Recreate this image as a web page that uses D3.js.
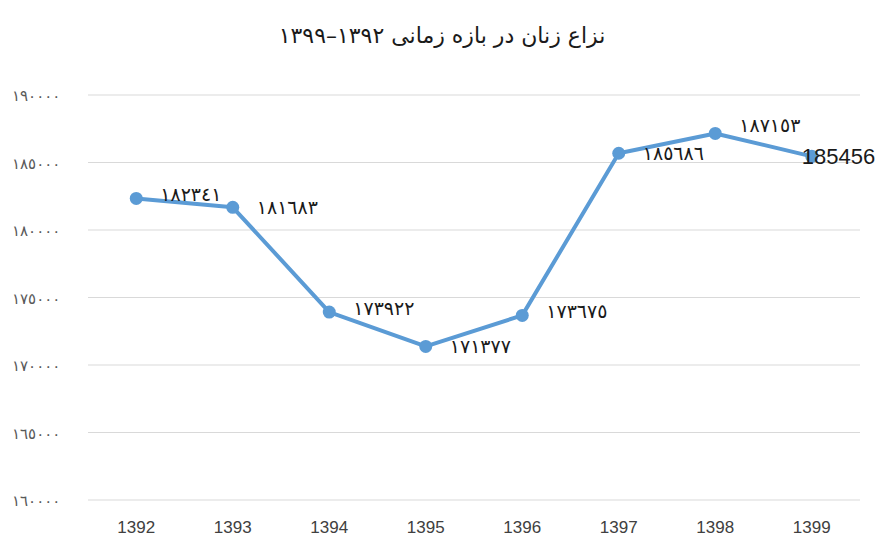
<!DOCTYPE html>
<html>
<head>
<meta charset="utf-8">
<script src="https://cdn.jsdelivr.net/npm/d3@7"></script>
<style>
  body { margin: 0; background: #fff; }
  svg { display: block; }
</style>
</head>
<body>
<svg id="chart" width="880" height="542"></svg>
<script>
// data
const years = ["1392", "1393", "1394", "1395", "1396", "1397", "1398", "1399"];
const values = [182341, 181683, 173922, 171377, 173675, 185686, 187153, 185456];
const yTicks = [160000, 165000, 170000, 175000, 180000, 185000, 190000];
const title = "نزاع زنان در بازه زمانی ۱۳۹۲–۱۳۹۹";

const arabicDigits = "٠١٢٣٤٥٦٧٨٩";
const toArabic = n => String(n).replace(/[0-9]/g, d => arabicDigits[+d]);

const svg = d3.select("#chart");
const plotLeft = 88, plotRight = 860, plotTop = 95, plotBottom = 500;

const x = d3.scaleBand().domain(years).range([plotLeft, plotRight]);
const y = d3.scaleLinear().domain([160000, 190000]).range([plotBottom, plotTop]);

// gridlines
svg.append("g")
  .selectAll("line")
  .data(yTicks)
  .join("line")
  .attr("x1", plotLeft).attr("x2", plotRight)
  .attr("y1", d => y(d)).attr("y2", d => y(d))
  .attr("stroke", "#d9d9d9").attr("stroke-width", 1);

// y tick labels
svg.append("g")
  .selectAll("text")
  .data(yTicks)
  .join("text")
  .attr("x", 12)
  .attr("y", d => y(d) + 6)
  .attr("font-family", "DejaVu Sans")
  .attr("font-size", 15)
  .attr("fill", "#595959")
  .text(d => toArabic(d));

// x axis labels
svg.append("g")
  .selectAll("text")
  .data(years)
  .join("text")
  .attr("x", d => x(d) + x.bandwidth() / 2)
  .attr("y", 533)
  .attr("text-anchor", "middle")
  .attr("font-family", "Liberation Sans Narrow, Liberation Sans")
  .attr("font-size", 17)
  .attr("fill", "#404040")
  .text(d => d);

const cx = (d, i) => x(years[i]) + x.bandwidth() / 2;

const line = d3.line()
  .x((d, i) => cx(d, i))
  .y(d => y(d));

svg.append("path")
  .datum(values)
  .attr("d", line)
  .attr("fill", "none")
  .attr("stroke", "#5b9bd5")
  .attr("stroke-width", 4)
  .attr("stroke-linejoin", "round");

svg.append("g")
  .selectAll("circle")
  .data(values)
  .join("circle")
  .attr("cx", cx)
  .attr("cy", d => y(d))
  .attr("r", 6.5)
  .attr("fill", "#5b9bd5");

// data labels
const labelDy = [3, 7, 3, 7, 3, 7, -1, 8];
svg.append("g")
  .selectAll("text")
  .data(values)
  .join("text")
  .attr("x", (d, i) => cx(d, i) + (i === values.length - 1 ? -10 : 24))
  .attr("y", (d, i) => y(d) + labelDy[i])
  .attr("font-family", (d, i) => i === values.length - 1 ? "Liberation Sans Narrow, Liberation Sans" : "DejaVu Sans")
  .attr("font-size", (d, i) => i === values.length - 1 ? 22 : 19)
  .attr("fill", "#1a1a1a")
  .text((d, i) => i === values.length - 1 ? String(d) : toArabic(d));

// title
svg.append("text")
  .attr("x", 442)
  .attr("y", 43)
  .attr("text-anchor", "middle")
  .attr("direction", "rtl")
  .attr("font-family", "DejaVu Sans")
  .attr("font-size", 22)
  .attr("fill", "#1a1a1a")
  .text(title);
</script>
</body>
</html>
